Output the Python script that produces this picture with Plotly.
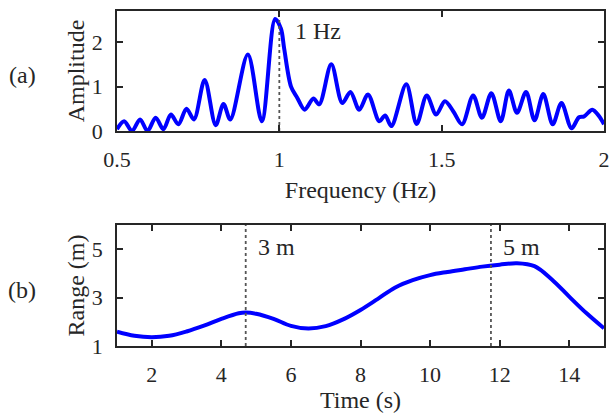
import plotly.graph_objects as go
from plotly.subplots import make_subplots

# ---- Panel (a): spectrum ----
freq = [0.500, 0.522, 0.546, 0.571, 0.594, 0.619, 0.643, 0.666, 0.689, 0.714,
        0.737, 0.770, 0.804, 0.828, 0.849, 0.903, 0.946, 0.987, 1.005, 1.015,
        1.036, 1.055, 1.078, 1.105, 1.123, 1.160, 1.194, 1.219, 1.246, 1.273,
        1.308, 1.326, 1.345, 1.391, 1.423, 1.454, 1.483, 1.510, 1.536, 1.563,
        1.597, 1.624, 1.653, 1.682, 1.707, 1.732, 1.760, 1.786, 1.813, 1.842,
        1.869, 1.900, 1.923, 1.939, 1.964, 1.985, 2.000]
amp = [0.04, 0.22, 0.00, 0.26, 0.00, 0.30, 0.04, 0.37, 0.15, 0.50,
       0.26, 1.15, 0.13, 0.61, 0.26, 1.72, 0.22, 2.52, 2.30, 1.85,
       1.00, 0.75, 0.48, 0.73, 0.60, 1.50, 0.63, 0.88, 0.48, 0.82,
       0.22, 0.35, 0.11, 1.05, 0.16, 0.80, 0.37, 0.67, 0.44, 0.15,
       0.80, 0.30, 0.85, 0.22, 0.91, 0.41, 0.88, 0.24, 0.83, 0.15,
       0.63, 0.06, 0.31, 0.33, 0.48, 0.33, 0.15]
peak_freq = [1.0]
peak_amp = [2.55]
peak_label = "1 Hz"
freq_ticks = [0.5, 1, 1.5, 2]
freq_tick_text = ["0.5", "1", "1.5", "2"]
amp_ticks = [0, 1, 2]

# ---- Panel (b): range vs time ----
time_s = [1, 1.5, 2, 2.5, 3, 3.5, 4, 4.5, 4.7, 5, 5.5, 6, 6.5, 7, 7.5, 8,
          8.5, 9, 9.5, 10, 10.5, 11, 11.5, 12, 12.5, 13, 13.5, 14, 14.5, 15]
range_m = [1.59, 1.42, 1.36, 1.42, 1.60, 1.84, 2.12, 2.35, 2.38, 2.33, 2.12,
           1.83, 1.72, 1.82, 2.10, 2.49, 2.95, 3.42, 3.72, 3.93, 4.06, 4.17,
           4.28, 4.36, 4.42, 4.30, 3.75, 3.04, 2.35, 1.73]
marker_times = [4.7, 11.75]
marker_labels = ["3 m", "5 m"]
time_ticks = [2, 4, 6, 8, 10, 12, 14]
range_ticks = [1, 3, 5]

FONT = "Liberation Serif, Times New Roman, serif"
FS_TICK = 22
FS_LAB = 24
AX = "#262626"
BLUE = "#0000ff"

fig = make_subplots(rows=2, cols=1)

fig.add_trace(go.Scatter(x=freq, y=amp, mode="lines",
                         line=dict(color=BLUE, width=4, shape="spline", smoothing=0.9),
                         showlegend=False), row=1, col=1)
fig.add_trace(go.Scatter(x=[peak_freq[0], peak_freq[0]], y=[0, peak_amp[0]], mode="lines",
                         line=dict(color="#555555", width=1.8, dash="dot"),
                         showlegend=False), row=1, col=1)

fig.add_trace(go.Scatter(x=time_s, y=range_m, mode="lines",
                         line=dict(color=BLUE, width=4, shape="spline", smoothing=1.0),
                         showlegend=False), row=2, col=1)
for t in marker_times:
    fig.add_trace(go.Scatter(x=[t, t], y=[1, 6], mode="lines",
                             line=dict(color="#555555", width=1.8, dash="dot"),
                             showlegend=False), row=2, col=1)

axis_common = dict(showline=True, linecolor=AX, linewidth=1.5, mirror="allticks",
                   ticks="inside", ticklen=6, tickwidth=1.5, tickcolor=AX,
                   showgrid=False, zeroline=False, automargin=False,
                   ticklabeloverflow="allow",
                   tickfont=dict(family=FONT, size=FS_TICK, color=AX),
                   title_font=dict(family=FONT, size=FS_LAB, color=AX))

x0, x1 = 117 / 610, 604 / 610
fig.update_xaxes(**axis_common, row=1, col=1, range=[0.5, 2], tickvals=freq_ticks,
                 ticktext=freq_tick_text, domain=[x0, x1], ticklabelstandoff=8,
                 title_text="Frequency (Hz)", title_standoff=10)
fig.update_yaxes(**axis_common, row=1, col=1, range=[0, 2.7], tickvals=amp_ticks,
                 domain=[1 - 131 / 414, 1 - 11 / 414], ticklabelstandoff=8,
                 title_text="Amplitude", title_standoff=0)
fig.update_xaxes(**axis_common, row=2, col=1, range=[1, 15], tickvals=time_ticks,
                 domain=[x0, x1], ticklabelstandoff=8,
                 title_text="Time (s)", title_standoff=5)
fig.update_yaxes(**axis_common, row=2, col=1, range=[1, 6], tickvals=range_ticks,
                 domain=[1 - 346 / 414, 1 - 225 / 414], ticklabelstandoff=8,
                 title_text="Range (m)", title_standoff=0)

fig.add_annotation(x=1.042, y=2.25, xref="x", yref="y", text=peak_label, showarrow=False,
                   xanchor="left", yanchor="middle", font=dict(family=FONT, size=FS_LAB, color=AX))
for t, lab in zip(marker_times, marker_labels):
    fig.add_annotation(x=t + 0.3, y=5.1, xref="x2", yref="y2", text=lab, showarrow=False,
                       xanchor="left", yanchor="middle", font=dict(family=FONT, size=FS_LAB, color=AX))

fig.add_annotation(x=22 / 610, y=1 - 75 / 414, xref="paper", yref="paper", text="(a)",
                   showarrow=False, xanchor="center", yanchor="middle",
                   font=dict(family=FONT, size=FS_LAB, color=AX))
fig.add_annotation(x=22 / 610, y=1 - 290 / 414, xref="paper", yref="paper", text="(b)",
                   showarrow=False, xanchor="center", yanchor="middle",
                   font=dict(family=FONT, size=FS_LAB, color=AX))

fig.update_layout(width=610, height=414, margin=dict(l=0, r=0, t=0, b=0),
                  paper_bgcolor="white", plot_bgcolor="white")

fig.write_html("out.html", config={"displayModeBar": False},
               post_script="document.body.style.margin='0';document.body.style.overflow='hidden';")
